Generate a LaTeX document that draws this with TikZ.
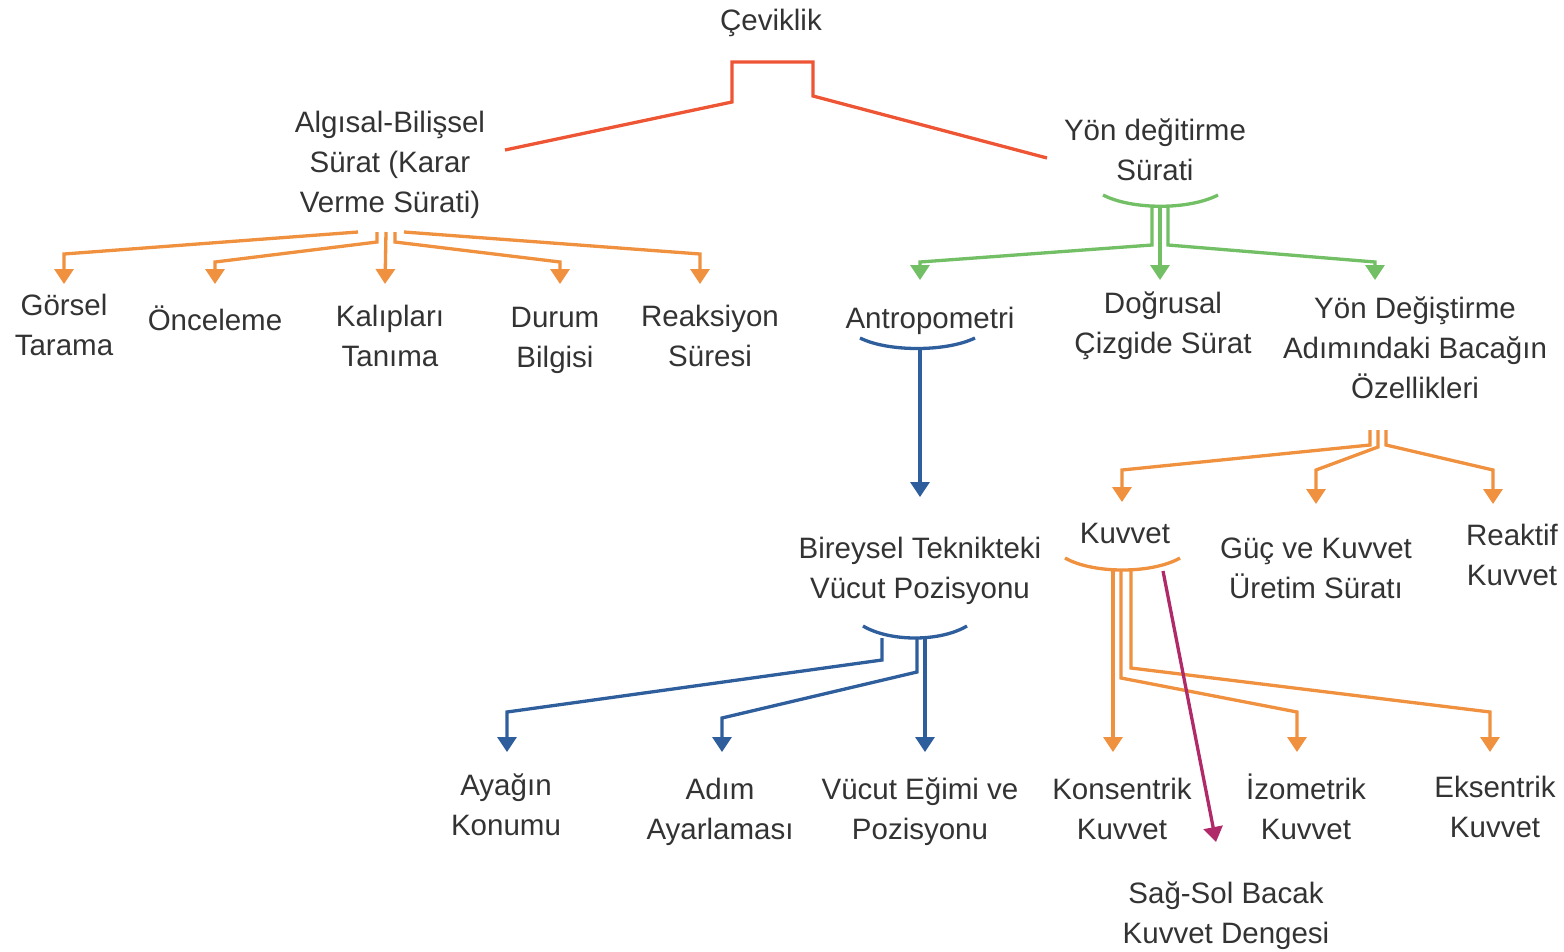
\documentclass[tikz,border=0pt]{standalone}
\usepackage{fontspec}
\setmainfont{Liberation Sans}
\usetikzlibrary{arrows.meta}
\definecolor{redc}{HTML}{EE5534}
\definecolor{orc}{HTML}{F0913F}
\definecolor{grc}{HTML}{72BF65}
\definecolor{blc}{HTML}{2F5E9C}
\definecolor{mgc}{HTML}{B02A6A}
\definecolor{txt}{HTML}{333333}
\begin{document}
\begin{tikzpicture}[x=1pt,y=-1pt,
  lbl/.style={font=\fontsize{29.5}{40}\selectfont, text=txt, align=center, inner sep=0pt},
  conn/.style={line width=3.3pt, line join=miter},
  arr/.style={conn, -{Triangle[width=19pt,length=15pt]}}]
\useasboundingbox (0,0) rectangle (1564,951);

% ---------- text nodes ----------
\node[lbl] (cev) at (771,23) {Çeviklik};
\node[lbl] (alg) at (390,165) {Algısal-Bilişsel\\Sürat (Karar\\Verme Sürati)};
\node[lbl] (yon) at (1155,150) {Yön değitirme\\Sürati};
\node[lbl] (gor) at (64,325) {Görsel\\Tarama};
\node[lbl] (onc) at (215,318) {Önceleme};
\node[lbl] (kal) at (390,336) {Kalıpları\\Tanıma};
\node[lbl] (dur) at (555,340) {Durum\\Bilgisi};
\node[lbl] (rea) at (710,336) {Reaksiyon\\Süresi};
\node[lbl] (ant) at (930,321) {Antropometri};
\node[lbl] (dog) at (1163,326) {Doğrusal\\Çizgide Sürat};
\node[lbl] (yda) at (1415,348) {Yön Değiştirme\\Adımındaki Bacağın\\Özellikleri};
\node[lbl] (bir) at (920,571) {Bireysel Teknikteki\\Vücut Pozisyonu};
\node[lbl] (kuv) at (1125,533) {Kuvvet};
\node[lbl] (guc) at (1316,568) {Güç ve Kuvvet\\Üretim Süratı};
\node[lbl] (rkt) at (1512,555) {Reaktif\\Kuvvet};
\node[lbl] (aya) at (506,805) {Ayağın\\Konumu};
\node[lbl] (adi) at (720,812) {Adım\\Ayarlaması};
\node[lbl] (vuc) at (920,812) {Vücut Eğimi ve\\Pozisyonu};
\node[lbl] (kon) at (1122,809) {Konsentrik\\Kuvvet};
\node[lbl] (izo) at (1306,807) {İzometrik\\Kuvvet};
\node[lbl] (eks) at (1495,807) {Eksentrik\\Kuvvet};
\node[lbl] (sag) at (1226,916) {Sağ-Sol Bacak\\Kuvvet Dengesi};

% ---------- top (red) ----------
\coordinate (cevL) at (505,150);
\coordinate (cevR) at (1047,158);
\draw[conn,redc] (cevL) -- (732,102) -- (732,62) -- (813,62) -- (813,96) -- (cevR);

% ---------- Algisal fork (orange) ----------
\coordinate (tgor) at (64,284);
\coordinate (tonc) at (215,284);
\coordinate (tkal) at (385,284);
\coordinate (tdur) at (560,284);
\coordinate (trea) at (700,284);
\draw[arr,orc] (358,232) -- (64,254) -- (tgor);
\draw[arr,orc] (377,232) -- (377,242) -- (215,262) -- (tonc);
\draw[arr,orc] (386,232) -- (tkal);
\draw[arr,orc] (395,232) -- (395,242) -- (560,262) -- (tdur);
\draw[arr,orc] (404,232) -- (700,254) -- (trea);

% ---------- Yon fork (green) ----------
\draw[conn,grc] (1103,195) .. controls (1132,210) and (1189,210) .. (1218,195);
\coordinate (tant) at (920,280);
\coordinate (tdog) at (1160,280);
\coordinate (tyda) at (1375,280);
\draw[arr,grc] (1152,207) -- (1152,245) -- (920,262) -- (tant);
\draw[arr,grc] (1160,207) -- (tdog);
\draw[arr,grc] (1168,207) -- (1168,245) -- (1375,262) -- (tyda);

% ---------- Antropometri (blue) ----------
\draw[conn,blc] (860,338) .. controls (888,352) and (946,352) .. (975,338);
\coordinate (tbir) at (920,497);
\draw[arr,blc] (920,348) -- (tbir);

% ---------- Yon Degistirme fork (orange) ----------
\coordinate (tkuv) at (1122,502);
\coordinate (tguc) at (1316,504);
\coordinate (trkt) at (1493,504);
\draw[arr,orc] (1370,430) -- (1370,445) -- (1122,470) -- (tkuv);
\draw[arr,orc] (1378,430) -- (1378,447) -- (1316,470) -- (tguc);
\draw[arr,orc] (1386,430) -- (1386,445) -- (1493,470) -- (trkt);

% ---------- Bireysel fork (blue) ----------
\draw[conn,blc] (863,626) .. controls (890,642) and (940,642) .. (967,626);
\coordinate (taya) at (507,752);
\coordinate (tadi) at (722,752);
\coordinate (tvuc) at (925,752);
\draw[arr,blc] (882,638) -- (882,660) -- (507,712) -- (taya);
\draw[arr,blc] (917,638) -- (917,672) -- (722,718) -- (tadi);
\draw[arr,blc] (925,638) -- (tvuc);

% ---------- Kuvvet fork (orange) ----------
\draw[conn,orc] (1065,558) .. controls (1093,574) and (1152,574) .. (1180,558);
\coordinate (tkon) at (1113,752);
\coordinate (tizo) at (1297,752);
\coordinate (teks) at (1490,752);
\draw[arr,orc] (1113,569) -- (tkon);
\draw[arr,orc] (1121,569) -- (1121,678) -- (1297,712) -- (tizo);
\draw[arr,orc] (1131,569) -- (1131,668) -- (1490,712) -- (teks);

% ---------- magenta ----------
\coordinate (msrc) at (1163,571);
\coordinate (tsag) at (1216,842);
\draw[arr,mgc] (msrc) -- (tsag);
\end{tikzpicture}
\end{document}
